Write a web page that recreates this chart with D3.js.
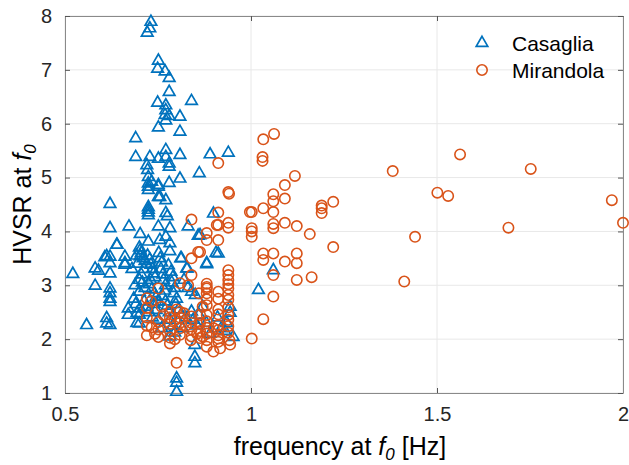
<!DOCTYPE html>
<html>
<head>
<meta charset="utf-8">
<script src="https://cdn.jsdelivr.net/npm/d3@7"></script>
<style>
  body { margin: 0; background: #fff; }
  svg { font-family: "Liberation Sans", Arial, Helvetica, sans-serif; }
</style>
</head>
<body>
<div id="chart"></div>
<script>
// data: [frequency at f0 (Hz), HVSR at f0]
const seriesNames = ["Casaglia", "Mirandola"];
const xTicks = [0.5, 1, 1.5, 2];
const yTicks = [1, 2, 3, 4, 5, 6, 7, 8];

const casagliaPoints = [
  [0.731,7.89],[0.728,7.77],[0.721,7.69],
  [0.751,7.17],[0.749,7.02],[0.769,6.97],[0.780,6.85],[0.780,6.59],
  [0.749,6.39],[0.771,6.34],[0.840,6.42],[0.771,6.25],[0.769,6.16],[0.780,6.14],[0.809,6.13],[0.771,6.06],[0.751,5.93],[0.809,5.85],
  [0.690,5.73],[0.690,5.38],[0.728,5.38],[0.751,5.35],[0.771,5.51],[0.771,5.38],[0.780,5.26],[0.780,5.20],[0.809,5.42],[0.890,5.43],[0.939,5.46],
  [0.720,5.23],[0.722,5.14],[0.724,5.01],[0.733,4.92],[0.751,4.86],[0.780,4.90],[0.809,4.98],[0.861,5.08],
  [0.724,4.83],[0.751,4.64],[0.771,4.58],[0.621,4.51],[0.724,4.45],[0.724,4.40],[0.724,4.35],[0.724,4.30],[0.771,4.34],[0.775,4.28],[0.899,4.33],
  [0.621,4.06],[0.672,4.09],[0.702,3.95],[0.751,4.09],[0.782,4.06],[0.831,4.09],[0.863,3.93],[0.771,3.90],[0.755,3.84],[0.782,3.78],[0.782,3.63],
  [0.724,4.89],[0.724,4.77],[0.751,4.83],[0.755,4.64],[0.724,3.81],[0.640,3.75],
  [0.521,3.21],[0.581,3.31],[0.590,3.27],[0.612,3.54],[0.621,3.53],[0.639,3.75],[0.621,3.41],[0.621,3.22],[0.581,2.99],[0.621,2.94],[0.621,2.85],
  [0.621,2.75],[0.621,2.69],[0.661,3.53],[0.661,3.41],[0.670,2.57],[0.670,2.45],[0.700,2.88],[0.702,2.57],[0.700,2.29],[0.612,2.39],[0.612,2.29],
  [0.621,2.26],[0.558,2.26],[0.607,3.52],[0.661,3.38],[0.702,3.65],[0.702,3.54],
  [0.700,3.70],[0.705,3.60],[0.710,3.50],[0.715,3.45],[0.720,3.40],[0.712,3.30],[0.705,3.20],[0.700,3.10],[0.708,3.05],[0.715,2.95],
  [0.722,3.55],[0.728,3.48],[0.731,3.38],[0.735,3.30],[0.738,3.22],[0.742,3.15],[0.730,3.10],[0.726,3.02],[0.733,2.92],[0.740,2.85],
  [0.745,2.78],[0.750,2.70],[0.752,3.60],[0.756,3.50],[0.760,3.42],[0.758,3.30],[0.763,3.20],[0.765,3.10],[0.770,3.00],[0.768,2.90],
  [0.762,2.80],[0.770,2.70],[0.775,2.62],[0.778,3.37],[0.785,3.25],[0.790,3.15],[0.787,3.05],[0.795,2.95],[0.792,2.85],[0.800,2.75],
  [0.798,2.65],[0.805,2.55],[0.812,2.45],[0.780,2.50],[0.745,2.54],[0.751,2.36],[0.782,2.36],[0.782,2.05],[0.760,2.20],[0.790,2.25],
  [0.795,2.12],[0.813,3.50],[0.827,3.31],[0.820,3.10],[0.830,2.95],[0.840,2.88],[0.850,2.82],[0.840,2.51],[0.845,2.36],[0.860,2.45],
  [0.855,2.25],[0.881,3.41],[0.912,3.59],[0.944,2.60],[0.944,2.49],[0.952,2.04],[0.935,2.30],[0.930,2.15],
  [0.858,3.92],[0.906,3.60],[0.881,3.39],[0.811,3.50],[0.829,3.31],
  [0.849,1.89],[0.849,1.67],[0.849,1.55],[0.800,1.27],[0.800,1.19],[0.800,1.02],[1.020,2.91],[1.060,3.28],
  [0.693,2.48],[0.693,2.30],[0.690,2.65],[0.685,2.75],[0.695,3.40],[0.692,3.55],[0.680,3.30],[0.688,3.00],[0.713,2.70],[0.720,2.60],
  [0.725,2.50],[0.735,2.40],[0.740,2.65],[0.700,2.45],[0.816,2.20],[0.825,2.40],[0.870,2.60],[0.880,2.30],[0.890,2.10],[0.910,2.40],[0.920,2.20]
];

const mirandolaPoints = [
  [1.381,5.12],[1.562,5.43],[1.752,5.16],[1.501,4.72],[1.530,4.66],[1.970,4.58],[2.000,4.16],[1.692,4.07],[1.441,3.90],[1.221,4.55],
  [1.190,4.48],[1.190,4.43],[1.190,4.34],[1.158,3.95],[1.221,3.71],[1.163,3.15],[1.412,3.07],
  [0.912,5.27],[1.033,5.71],[1.062,5.81],[1.031,5.38],[1.031,5.31],[1.118,5.03],[1.091,4.86],[1.060,4.69],[1.091,4.61],[1.060,4.56],
  [0.939,4.73],[1.002,4.36],[1.033,4.43],[1.060,4.36],[0.912,4.35],[0.840,4.22],[0.912,4.12],[0.939,4.16],[0.939,4.07],[1.002,4.06],
  [1.002,4.00],[1.060,4.14],[1.060,4.06],[1.091,4.16],[1.123,4.10],[0.881,3.97],
  [0.912,3.84],[0.881,3.84],[0.863,3.62],[0.840,3.50],[0.840,3.19],[0.809,3.04],[0.720,2.76],
  [1.002,3.90],[1.033,3.59],[1.033,3.47],[1.060,3.59],[1.091,3.44],[1.123,3.59],[1.123,3.41],[1.123,3.10],[1.060,3.19],[1.060,2.79],
  [1.033,2.37],[1.002,2.01],[0.800,1.56],
  [0.939,3.28],[0.939,3.19],[0.939,3.10],[0.939,3.02],[0.939,2.94],[0.939,2.82],[0.939,2.73],[0.939,2.59],[0.939,2.45],[0.939,2.36],
  [0.939,2.24],[0.939,2.12],[0.942,1.98],[0.944,1.90],
  [0.881,3.03],[0.881,2.94],[0.881,2.85],[0.881,2.74],[0.881,2.63],[0.881,2.45],[0.881,2.33],[0.881,2.21],[0.881,2.10],[0.881,1.98],[0.881,1.86],
  [0.912,2.88],[0.912,2.75],[0.912,2.55],[0.912,2.46],[0.912,2.26],[0.912,2.17],[0.912,2.07],[0.912,2.01],[0.912,1.95],[0.899,1.77],[0.917,1.83],
  [0.863,2.45],[0.863,2.30],[0.863,2.15],[0.863,2.02],
  [0.840,2.42],[0.840,2.30],[0.840,2.18],[0.840,2.05],[0.838,1.98],
  [0.809,2.51],[0.809,2.40],[0.809,2.30],[0.809,2.20],[0.809,2.08],
  [0.782,2.51],[0.782,2.40],[0.782,2.28],[0.782,2.15],[0.782,2.03],[0.782,1.92],
  [0.751,2.94],[0.751,2.32],[0.751,2.18],[0.751,2.04],
  [0.720,2.58],[0.720,2.40],[0.720,2.25],[0.720,2.07],
  [0.765,2.45],[0.795,2.35],[0.825,2.25],[0.855,2.10],[0.870,2.05],[0.795,2.00],[0.742,2.10],[0.733,2.22],[0.760,2.60],[0.731,2.70],
  [0.800,2.55],[0.820,2.48],[0.870,2.60],[0.860,2.85],[0.900,2.20],
  [0.908,4.12],[0.941,4.70],[0.997,4.36],[0.831,3.00],[0.881,2.97],[0.858,3.62]
];

const colors = ["#0072BD", "#D95319"];

const width = 629, height = 465;
const margin = { top: 16, right: 6, bottom: 72, left: 65 };
const innerW = width - margin.left - margin.right;
const innerH = height - margin.top - margin.bottom;

const x = d3.scaleLinear().domain([0.5, 2]).range([0, innerW]);
const y = d3.scaleLinear().domain([1, 8]).range([innerH, 0]);

const svg = d3.select("#chart").append("svg")
  .attr("width", width)
  .attr("height", height);

const g = svg.append("g")
  .attr("transform", `translate(${margin.left},${margin.top})`);

// grid
g.append("g").selectAll("line")
  .data(xTicks)
  .enter().append("line")
  .attr("x1", d => x(d)).attr("x2", d => x(d))
  .attr("y1", 0).attr("y2", innerH)
  .attr("stroke", "#e8e8e8");

g.append("g").selectAll("line")
  .data(yTicks)
  .enter().append("line")
  .attr("x1", 0).attr("x2", innerW)
  .attr("y1", d => y(d)).attr("y2", d => y(d))
  .attr("stroke", "#e8e8e8");

// axes, ticks pointing inward, box on all sides
function styleAxis(sel) {
  sel.select(".domain").attr("stroke", "#8a8a8a");
  sel.selectAll(".tick line").attr("stroke", "#555");
  sel.selectAll(".tick text").attr("fill", "#262626").style("font-size", "20px");
}

g.append("g")
  .attr("transform", `translate(0,${innerH})`)
  .call(d3.axisBottom(x).tickValues(xTicks).tickFormat(d3.format("")).tickSizeInner(-5).tickSizeOuter(0).tickPadding(14))
  .call(styleAxis);

g.append("g")
  .call(d3.axisTop(x).tickValues(xTicks).tickFormat("").tickSizeInner(-5).tickSizeOuter(0))
  .call(styleAxis);

g.append("g")
  .call(d3.axisLeft(y).tickValues(yTicks).tickFormat(d3.format("d")).tickSizeInner(-5).tickSizeOuter(0).tickPadding(13))
  .call(styleAxis);

g.append("g")
  .attr("transform", `translate(${innerW},0)`)
  .call(d3.axisRight(y).tickValues(yTicks).tickFormat("").tickSizeInner(-5).tickSizeOuter(0))
  .call(styleAxis);

// markers
const tri = d3.symbol().type(d3.symbolTriangle).size(58);

g.append("g").selectAll("path")
  .data(casagliaPoints)
  .enter().append("path")
  .attr("d", tri)
  .attr("transform", d => `translate(${x(d[0])},${y(d[1])})`)
  .attr("fill", "none")
  .attr("stroke", colors[0])
  .attr("stroke-width", 1.7);

g.append("g").selectAll("circle")
  .data(mirandolaPoints)
  .enter().append("circle")
  .attr("cx", d => x(d[0]))
  .attr("cy", d => y(d[1]))
  .attr("r", 5.2)
  .attr("fill", "none")
  .attr("stroke", colors[1])
  .attr("stroke-width", 1.6);

// legend
const legend = svg.append("g").attr("transform", "translate(482,0)");
seriesNames.forEach((name, i) => {
  const row = legend.append("g").attr("transform", `translate(0,${43 + i * 27})`);
  if (i === 0) {
    row.append("path").attr("d", tri)
      .attr("fill", "none").attr("stroke", colors[0]).attr("stroke-width", 1.7);
  } else {
    row.append("circle").attr("r", 5.2)
      .attr("fill", "none").attr("stroke", colors[1]).attr("stroke-width", 1.6);
  }
  row.append("text")
    .attr("x", 30).attr("dy", "0.36em")
    .style("font-size", "21px")
    .attr("fill", "#000")
    .text(name);
});

// axis labels
const xl = svg.append("text")
  .attr("x", 340)
  .attr("y", height - 10)
  .attr("text-anchor", "middle")
  .style("font-size", "25px")
  .attr("fill", "#000");
xl.append("tspan").text("frequency at ");
xl.append("tspan").style("font-style", "italic").text("f");
xl.append("tspan").style("font-style", "italic").style("font-size", "17px").attr("dy", 5).text("0");
xl.append("tspan").attr("dy", -5).text(" [Hz]");

const yl = svg.append("text")
  .attr("transform", `translate(31,${margin.top + innerH / 2}) rotate(-90)`)
  .attr("text-anchor", "middle")
  .style("font-size", "25px")
  .attr("fill", "#000");
yl.append("tspan").text("HVSR at ");
yl.append("tspan").style("font-style", "italic").text("f");
yl.append("tspan").style("font-style", "italic").style("font-size", "17px").attr("dy", 5).text("0");
</script>
</body>
</html>
